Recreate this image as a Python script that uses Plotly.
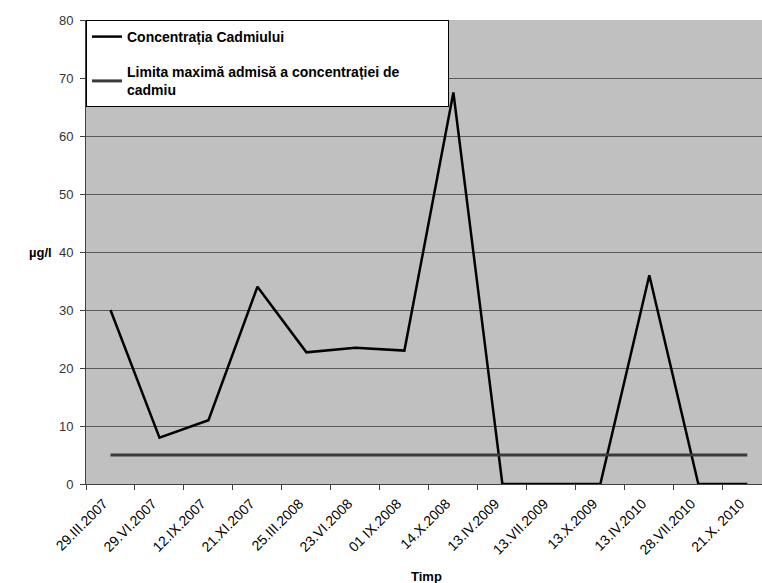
import plotly.graph_objects as go

# Sampling dates (categorical x axis)
dates = ["29.III.2007", "29.VI.2007", "12.IX.2007", "21.XI.2007", "25.III.2008",
         "23.VI.2008", "01 IX.2008", "14.X.2008", "13.IV.2009", "13.VII.2009",
         "13.X.2009", "13.IV.2010", "28.VII.2010", "21.X. 2010"]

# Measured cadmium concentration (µg/l)
cadmium = [30, 8, 11, 34, 22.7, 23.5, 23, 67.5, 0, 0, 0, 36, 0, 0]

# Maximum admissible concentration (µg/l)
limit = [5] * len(dates)

y_ticks = [0, 10, 20, 30, 40, 50, 60, 70, 80]

FONT = "Liberation Sans, Arial, sans-serif"
PAD = "&nbsp;" * 11

fig = go.Figure()
fig.add_trace(go.Scatter(
    x=dates, y=cadmium, mode="lines", name="Concentrația Cadmiului",
    line=dict(color="#000000", width=2.5), legendgroup="a",
))
fig.add_trace(go.Scatter(
    x=dates, y=limit, mode="lines",
    name="Limita maximă admisă a concentrației de" + PAD + "<br>cadmiu",
    line=dict(color="#3a3a3a", width=3), legendgroup="b",
))

fig.update_layout(
    width=762, height=583,
    margin=dict(l=86, r=0, t=20, b=99),
    paper_bgcolor="white",
    plot_bgcolor="#c0c0c0",
    font=dict(family=FONT, size=13, color="#000000"),
    showlegend=True,
    legend=dict(
        x=0, y=1, xanchor="left", yanchor="top",
        bgcolor="white", bordercolor="#000000", borderwidth=1,
        font=dict(family=FONT, size=14, color="#000000", weight="bold"),
        tracegroupgap=14, traceorder="grouped",
        itemwidth=30,
    ),
    xaxis=dict(
        type="category",
        range=[-0.5, 13.3],
        tickangle=-45,
        tickson="boundaries",
        ticks="outside", ticklen=5, tickcolor="#404040",
        showline=True, linecolor="#404040", linewidth=1,
        showgrid=False,
        ticklabelshift=-7, ticklabelstandoff=5,
        tickfont=dict(family=FONT, size=14, color="#000000"),
    ),
    yaxis=dict(
        range=[0, 80],
        tickvals=y_ticks,
        ticks="outside", ticklen=5, tickcolor="#404040",
        showline=True, linecolor="#404040", linewidth=1,
        showgrid=True, gridcolor="#5a5a5a", gridwidth=1,
        zeroline=False,
        ticklabelstandoff=4,
        tickfont=dict(family=FONT, size=13, color="#333333"),
    ),
)

# Axis titles
fig.add_annotation(
    text="<b>µg/l</b>", xref="paper", yref="paper",
    x=-0.068, y=0.5, xanchor="center", yanchor="middle",
    showarrow=False, font=dict(family=FONT, size=13, color="#000000"),
)
fig.add_annotation(
    text="<b>Timp</b>", xref="paper", yref="paper",
    x=0.504, y=-0.2, xanchor="center", yanchor="middle",
    showarrow=False, font=dict(family=FONT, size=13, color="#000000"),
)

fig.write_html("out.html")
